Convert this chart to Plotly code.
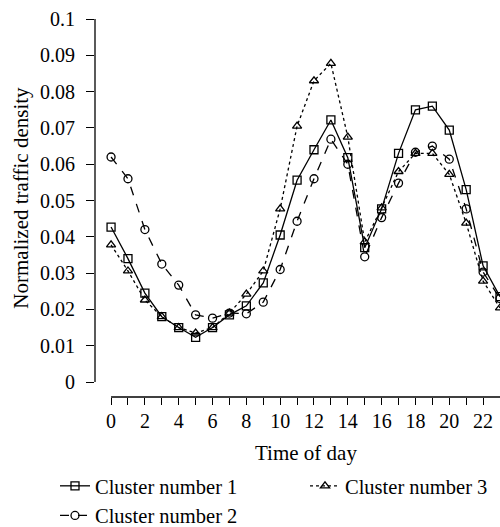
import plotly.graph_objects as go

hours = list(range(24))
cluster1 = [0.0427, 0.034, 0.0245, 0.018, 0.015, 0.0123, 0.015, 0.0185, 0.021, 0.0273,
            0.0405, 0.0556, 0.064, 0.0722, 0.0618, 0.037, 0.0477, 0.063, 0.075, 0.076,
            0.0694, 0.053, 0.032, 0.0235]
cluster2 = [0.062, 0.056, 0.042, 0.0325, 0.0267, 0.0185, 0.0176, 0.019, 0.0188, 0.022,
            0.031, 0.0443, 0.056, 0.0669, 0.060, 0.0345, 0.0453, 0.0548, 0.0633, 0.065,
            0.0614, 0.0477, 0.0303, 0.023]
cluster3 = [0.0378, 0.0306, 0.0226, 0.018, 0.015, 0.0135, 0.015, 0.019, 0.0242, 0.0306,
            0.0477, 0.0705, 0.083, 0.0878, 0.0675, 0.0386, 0.048, 0.058, 0.063, 0.063,
            0.0572, 0.0438, 0.0278, 0.0204]
names = ["Cluster number 1", "Cluster number 2", "Cluster number 3"]
x_ticktext = [str(h) if h % 2 == 0 else "" for h in hours]
y_tickvals = [0, 0.01, 0.02, 0.03, 0.04, 0.05, 0.06, 0.07, 0.08, 0.09, 0.1]
y_ticktext = ["0", "0.01", "0.02", "0.03", "0.04", "0.05", "0.06", "0.07", "0.08", "0.09", "0.1"]

FONT = "Liberation Serif"
fig = go.Figure()
styles = [("solid", "square-open"), ("dash", "circle-open"), ("dot", "triangle-up-open")]
order = [0, 2, 1]
series = [cluster1, cluster2, cluster3]
for i in order:
    dash, sym = styles[i]
    fig.add_trace(go.Scatter(
        x=hours, y=series[i], name=names[i], mode="lines+markers",
        line=dict(color="black", width=1.3, dash=dash),
        marker=dict(symbol=sym, size=8, color="black", line=dict(width=1.3, color="black")),
        cliponaxis=False,
    ))

# plot area: x 95..500, y 10..397 (px)
fig.update_layout(
    width=500, height=527,
    margin=dict(l=95, r=0, t=10, b=130, autoexpand=False),
    plot_bgcolor="white", paper_bgcolor="white",
    font=dict(family=FONT, size=20, color="black"),
    showlegend=True,
    legend=dict(orientation="h", x=(55 - 95) / 405, xanchor="left",
                y=(397 - 466) / 387, yanchor="top",
                entrywidth=205, entrywidthmode="pixels", font=dict(size=20.5),
                tracegroupgap=0, itemwidth=30, bgcolor="rgba(0,0,0,0)"),
    xaxis=dict(range=[-0.95, 23.0], tickvals=hours, ticktext=x_ticktext,
               ticks="outside", ticklen=7, tickwidth=1.3, tickcolor="black",
               showline=False, showgrid=False, zeroline=False, automargin=False,
               tickfont=dict(size=20, family=FONT), ticklabelstandoff=-1),
    yaxis=dict(range=[-0.00413, 0.1025], tickvals=y_tickvals, ticktext=y_ticktext,
               ticks="outside", ticklen=8, tickwidth=1.3, tickcolor="black",
               showline=False, showgrid=False, zeroline=False, automargin=False,
               tickfont=dict(size=20, family=FONT), ticklabelstandoff=7),
)
fig.add_shape(type="line", xref="paper", yref="y", x0=0, x1=0, y0=0, y1=0.1,
              line=dict(color="black", width=1.3))
fig.add_shape(type="line", xref="x", yref="paper", x0=0, x1=23.5, y0=0, y1=0,
              line=dict(color="black", width=1.3))
fig.add_annotation(text="Time of day", xref="x", yref="paper", x=11.5, y=-0.145,
                   showarrow=False, xanchor="center", yanchor="middle",
                   font=dict(size=21, family=FONT))
fig.add_annotation(text="Normalized traffic density", xref="paper", yref="y",
                   x=(21 - 95) / 405, y=0.0508, textangle=-90, showarrow=False,
                   xanchor="center", yanchor="middle", font=dict(size=21, family=FONT))
fig.write_html("out.html", config={"displayModeBar": False},
               post_script="document.body.style.margin='0px';")
